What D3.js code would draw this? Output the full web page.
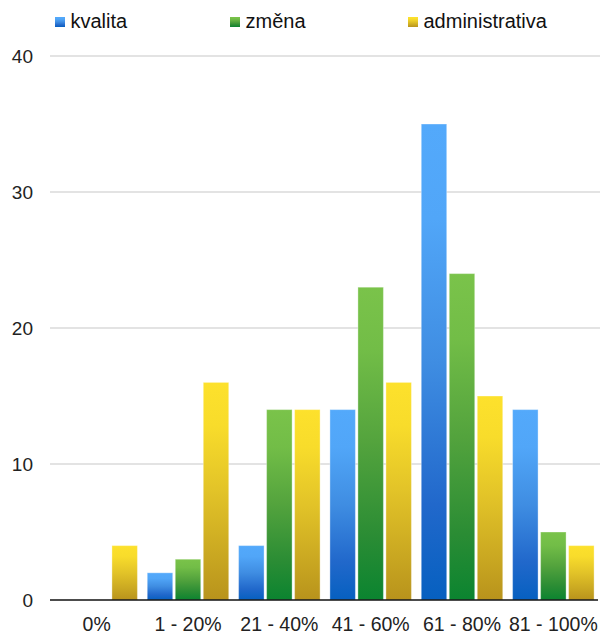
<!DOCTYPE html>
<html>
<head>
<meta charset="utf-8">
<script src="https://cdn.jsdelivr.net/npm/d3@7"></script>
<style>
  html, body { margin: 0; padding: 0; background: #fff; }
  svg { display: block; font-family: "Liberation Sans", Arial, sans-serif; }
</style>
</head>
<body>
<svg id="chart" width="602" height="634"></svg>
<script>
// Categories (share ranges) and counts per series
const categories = ["0%", "1 - 20%", "21 - 40%", "41 - 60%", "61 - 80%", "81 - 100%"];
const seriesNames = ["kvalita", "změna", "administrativa"];
const kvalita = [0, 2, 4, 14, 35, 14];
const zmena = [0, 3, 14, 23, 24, 5];
const administrativa = [4, 16, 14, 16, 15, 4];
const yTicks = [0, 10, 20, 30, 40];

const seriesValues = [kvalita, zmena, administrativa];

// Vertical gradients for each series (light top, dark bottom)
const gradientStops = [
  [[0, "#53a9fb"], [0.2, "#51a6f8"], [0.5, "#3f8de2"], [0.8, "#2168cb"], [1, "#0660c0"]],
  [[0, "#7ac34a"], [0.2, "#72bd47"], [0.5, "#53a33d"], [0.8, "#2a8c34"], [1, "#0b8430"]],
  [[0, "#fde12c"], [0.2, "#f8dc2b"], [0.5, "#e2c328"], [0.8, "#c9a721"], [1, "#b8931c"]]
];

const svg = d3.select("#chart");
const defs = svg.append("defs");
gradientStops.forEach((stops, i) => {
  const g = defs.append("linearGradient")
    .attr("id", "grad" + i)
    .attr("x1", 0).attr("y1", 0).attr("x2", 0).attr("y2", 1);
  stops.forEach(([o, c]) => g.append("stop").attr("offset", o).attr("stop-color", c));
});

const x = d3.scaleBand().domain(categories).range([51, 599]).padding(0);
const bw = x.bandwidth();
const groupW = 81.5;
const xInner = d3.scaleBand()
  .domain(seriesNames)
  .range([(bw - groupW) / 2, (bw + groupW) / 2])
  .paddingInner(0.09);
const y = d3.scaleLinear().domain([0, 40]).range([600, 56]);

// Horizontal grid lines
svg.append("g")
  .selectAll("line")
  .data(yTicks.filter(d => d > 0))
  .join("line")
  .attr("x1", 50).attr("x2", 600)
  .attr("y1", d => y(d)).attr("y2", d => y(d))
  .attr("stroke", "#c8c8c8")
  .attr("stroke-width", 1.2);

// Y tick labels
svg.append("g")
  .selectAll("text")
  .data(yTicks)
  .join("text")
  .attr("x", 33)
  .attr("y", d => y(d) + 6.5)
  .attr("text-anchor", "end")
  .attr("font-size", 19)
  .attr("fill", "#222")
  .text(d => d);

// Bars
const groups = svg.append("g")
  .selectAll("g")
  .data(categories)
  .join("g")
  .attr("transform", d => `translate(${x(d)},0)`);

groups.selectAll("rect")
  .data((d, ci) => seriesNames.map((s, si) => ({ s, si, v: seriesValues[si][ci] })))
  .join("rect")
  .filter(d => d.v > 0)
  .attr("x", d => xInner(d.s))
  .attr("width", xInner.bandwidth())
  .attr("y", d => y(d.v))
  .attr("height", d => y(0) - y(d.v))
  .attr("fill", d => `url(#grad${d.si})`)
  .attr("stroke", "rgba(255,255,255,0.35)")
  .attr("stroke-width", 1);

// Baseline
svg.append("line")
  .attr("x1", 50).attr("x2", 598)
  .attr("y1", y(0)).attr("y2", y(0))
  .attr("stroke", "#111")
  .attr("stroke-width", 1.6);

// X category labels
svg.append("g")
  .selectAll("text")
  .data(categories)
  .join("text")
  .attr("x", d => x(d) + bw / 2)
  .attr("y", 631)
  .attr("text-anchor", "middle")
  .attr("font-size", 19.5)
  .attr("fill", "#222")
  .text(d => d);

// Legend
const legendX = [55, 230, 408];
const legend = svg.append("g")
  .selectAll("g")
  .data(seriesNames)
  .join("g")
  .attr("transform", (d, i) => `translate(${legendX[i]},0)`);
legend.append("rect")
  .attr("x", 0).attr("y", 17)
  .attr("width", 10).attr("height", 10)
  .attr("fill", (d, i) => `url(#grad${i})`);
legend.append("text")
  .attr("x", 15.5).attr("y", 28)
  .attr("font-size", 20)
  .attr("fill", "#111")
  .text(d => d);
</script>
</body>
</html>
